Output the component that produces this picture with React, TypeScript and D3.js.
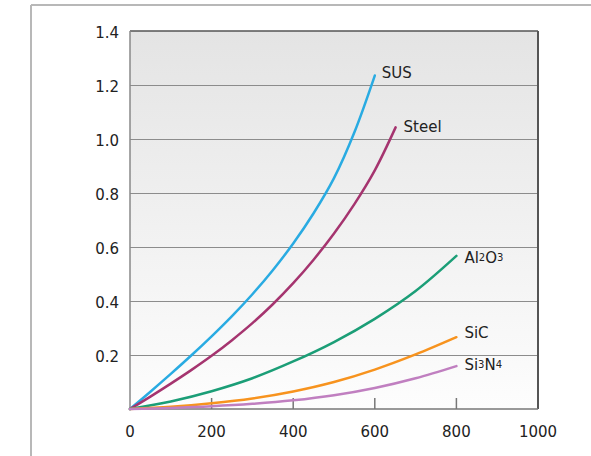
import React from "react";
import * as d3 from "d3";

const xTicks = [0, 200, 400, 600, 800, 1000];
const yTicks = [0.2, 0.4, 0.6, 0.8, 1.0, 1.2, 1.4];
const yTickLabels = ["0.2", "0.4", "0.6", "0.8", "1.0", "1.2", "1.4"];

const susX = [0, 50, 100, 150, 200, 250, 300, 350, 400, 450, 500, 550, 600];
const susY = [0, 0.064, 0.13, 0.198, 0.269, 0.344, 0.425, 0.514, 0.613, 0.725, 0.855, 1.025, 1.235];
const steelX = [0, 50, 100, 150, 200, 250, 300, 350, 400, 450, 500, 550, 600, 651];
const steelY = [0, 0.046, 0.094, 0.144, 0.197, 0.255, 0.318, 0.388, 0.466, 0.553, 0.65, 0.759, 0.884, 1.043];
const al2o3X = [0, 100, 200, 300, 400, 500, 600, 700, 800];
const al2o3Y = [0, 0.028, 0.066, 0.114, 0.176, 0.248, 0.334, 0.437, 0.567];
const sicX = [0, 100, 200, 300, 400, 500, 600, 700, 800];
const sicY = [0, 0.008, 0.021, 0.039, 0.065, 0.1, 0.146, 0.202, 0.266];
const si3n4X = [0, 100, 200, 300, 400, 500, 600, 700, 800];
const si3n4Y = [0, 0.004, 0.01, 0.019, 0.032, 0.051, 0.078, 0.114, 0.159];

const seriesNames = ["SUS", "Steel", "Al2O3", "SiC", "Si3N4"];
const seriesColors = ["#29abe2", "#a5346f", "#1b9e77", "#f7931e", "#c07fc0"];

const W = 591;
const H = 456;
const margin = { left: 130, top: 31, right: 538, bottom: 409 };

export default function App() {
  const x = d3.scaleLinear().domain([0, 1000]).range([margin.left, margin.right]);
  const y = d3.scaleLinear().domain([0, 1.4]).range([margin.bottom, margin.top]);
  const line = d3
    .line<[number, number]>()
    .x((d) => x(d[0]))
    .y((d) => y(d[1]))
    .curve(d3.curveCatmullRom.alpha(0.5));

  const seriesX = [susX, steelX, al2o3X, sicX, si3n4X];
  const seriesY = [susY, steelY, al2o3Y, sicY, si3n4Y];
  const font = "'DejaVu Sans', Verdana, sans-serif";

  const labels: React.ReactNode[] = [
    <tspan>SUS</tspan>,
    <tspan>Steel</tspan>,
    <>
      <tspan>Al</tspan>
      <tspan fontSize={10}>2</tspan>
      <tspan>O</tspan>
      <tspan fontSize={10}>3</tspan>
    </>,
    <tspan>SiC</tspan>,
    <>
      <tspan>Si</tspan>
      <tspan fontSize={10}>3</tspan>
      <tspan>N</tspan>
      <tspan fontSize={10}>4</tspan>
    </>,
  ];
  const labelOffsets = [
    [7, -3],
    [8, 0],
    [8, 2],
    [8, -4],
    [8, -1],
  ];

  return (
    <svg
      width={W}
      height={H}
      style={{ position: "absolute", left: 0, top: 0, background: "#fff" }}
      fontFamily={font}
    >
      <defs>
        <linearGradient id="bg" x1="0" y1="0" x2="0" y2="1">
          <stop offset="0%" stopColor="#e4e4e4" />
          <stop offset="100%" stopColor="#fdfdfd" />
        </linearGradient>
      </defs>
      {/* outer frame */}
      <line x1={31} y1={5} x2={W} y2={5} stroke="#b8b8b8" strokeWidth={2} />
      <line x1={31} y1={5} x2={31} y2={H} stroke="#b8b8b8" strokeWidth={2} />
      {/* plot background */}
      <rect
        x={margin.left}
        y={margin.top}
        width={margin.right - margin.left}
        height={margin.bottom - margin.top}
        fill="url(#bg)"
      />
      {/* gridlines */}
      {yTicks.slice(0, -1).map((t) => (
        <line
          key={t}
          x1={margin.left}
          x2={margin.right}
          y1={Math.round(y(t)) + 0.5}
          y2={Math.round(y(t)) + 0.5}
          stroke="#8c8c8c"
          strokeWidth={1}
        />
      ))}
      {/* x tick marks */}
      {xTicks.slice(1, -1).map((t) => (
        <line
          key={t}
          x1={x(t)}
          x2={x(t)}
          y1={margin.bottom}
          y2={margin.bottom - 11}
          stroke="#777"
          strokeWidth={1.5}
        />
      ))}
      {/* axes / border */}
      <line x1={margin.left} x2={margin.right} y1={margin.top} y2={margin.top} stroke="#555" strokeWidth={1.5} />
      <line x1={margin.right} x2={margin.right} y1={margin.top} y2={margin.bottom} stroke="#555" strokeWidth={2} />
      <line x1={margin.left} x2={margin.left} y1={margin.top} y2={margin.bottom} stroke="#888" strokeWidth={1.5} />
      <line x1={margin.left} x2={margin.right} y1={margin.bottom} y2={margin.bottom} stroke="#777" strokeWidth={1.5} />
      {/* series */}
      {seriesNames.map((name, i) => {
        const pts = seriesX[i].map((v, j) => [v, seriesY[i][j]] as [number, number]);
        const last = pts[pts.length - 1];
        return (
          <g key={name}>
            <path d={line(pts) || ""} fill="none" stroke={seriesColors[i]} strokeWidth={2.5} strokeLinecap="round" />
            <text
              x={x(last[0]) + labelOffsets[i][0]}
              y={y(last[1]) + labelOffsets[i][1]}
              fontSize={15}
              fill="#222"
              dominantBaseline="middle"
            >
              {labels[i]}
            </text>
          </g>
        );
      })}
      {/* y tick labels */}
      {yTicks.map((t, i) => (
        <text
          key={t}
          x={119}
          y={y(t) + 2}
          textAnchor="end"
          dominantBaseline="middle"
          fontSize={15}
          fill="#222"
        >
          {yTickLabels[i]}
        </text>
      ))}
      {/* x tick labels */}
      {xTicks.map((t) => (
        <text key={t} x={x(t)} y={432} textAnchor="middle" dominantBaseline="middle" fontSize={15} fill="#222">
          {t}
        </text>
      ))}
    </svg>
  );
}
